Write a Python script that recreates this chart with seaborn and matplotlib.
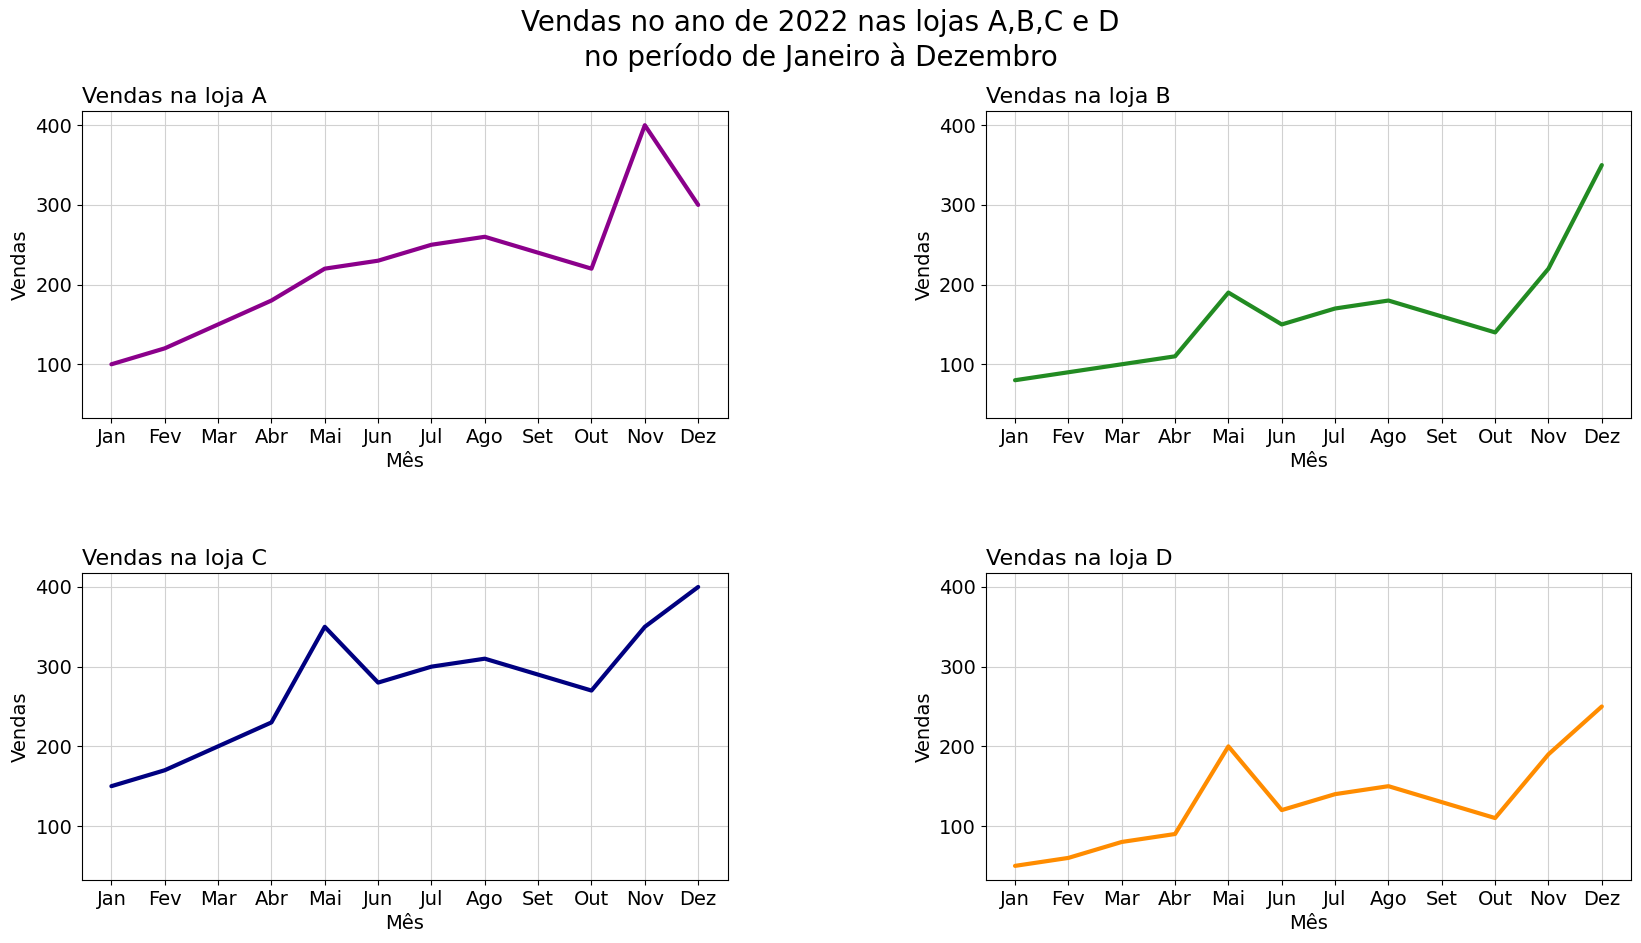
import pandas as pd
import seaborn as sns
import matplotlib.pyplot as plt

# vendas mensais por loja (2022)
meses = ['Jan', 'Fev', 'Mar', 'Abr', 'Mai', 'Jun', 'Jul', 'Ago', 'Set', 'Out', 'Nov', 'Dez']
vendas_a = [100, 120, 150, 180, 220, 230, 250, 260, 240, 220, 400, 300]
vendas_b = [80, 90, 100, 110, 190, 150, 170, 180, 160, 140, 220, 350]
vendas_c = [150, 170, 200, 230, 350, 280, 300, 310, 290, 270, 350, 400]
vendas_d = [50, 60, 80, 90, 200, 120, 140, 150, 130, 110, 190, 250]

lojas = ['A', 'B', 'C', 'D']
cores = ['darkmagenta', 'forestgreen', 'navy', 'darkorange']


def main():
    sns.set_style('ticks', {'axes.grid': True, 'axes.edgecolor': 'black', 'grid.color': '.82',
                            'text.color': 'black', 'axes.labelcolor': 'black',
                            'xtick.color': 'black', 'ytick.color': 'black'})
    plt.rcParams['font.family'] = ['DejaVu Sans']

    df = pd.DataFrame({'Mês': meses, 'A': vendas_a, 'B': vendas_b, 'C': vendas_c, 'D': vendas_d})

    fig, axes = plt.subplots(2, 2, figsize=(16.41, 9.43), dpi=100)
    fig.subplots_adjust(left=0.050, right=0.994, top=0.882, bottom=0.067, wspace=0.40, hspace=0.505)
    # mesma escala y em todos, mas mantendo rotulos em cada painel
    for ax in axes.flat[1:]:
        ax.sharey(axes.flat[0])

    for ax, loja, cor in zip(axes.flat, lojas, cores):
        sns.lineplot(data=df, x='Mês', y=loja, color=cor, linewidth=3, ax=ax)
        ax.set_title('Vendas na loja {}'.format(loja), loc='left', fontsize=16)
        ax.set_xlabel('Mês', fontsize=14)
        ax.set_ylabel('Vendas', fontsize=14)
        ax.tick_params(axis='both', labelsize=14, labelleft=True)

    fig.suptitle('Vendas no ano de 2022 nas lojas A,B,C e D\nno período de Janeiro à Dezembro', fontsize=20, y=0.99)
    plt.savefig('out.png')


if __name__ == '__main__':
    main()
